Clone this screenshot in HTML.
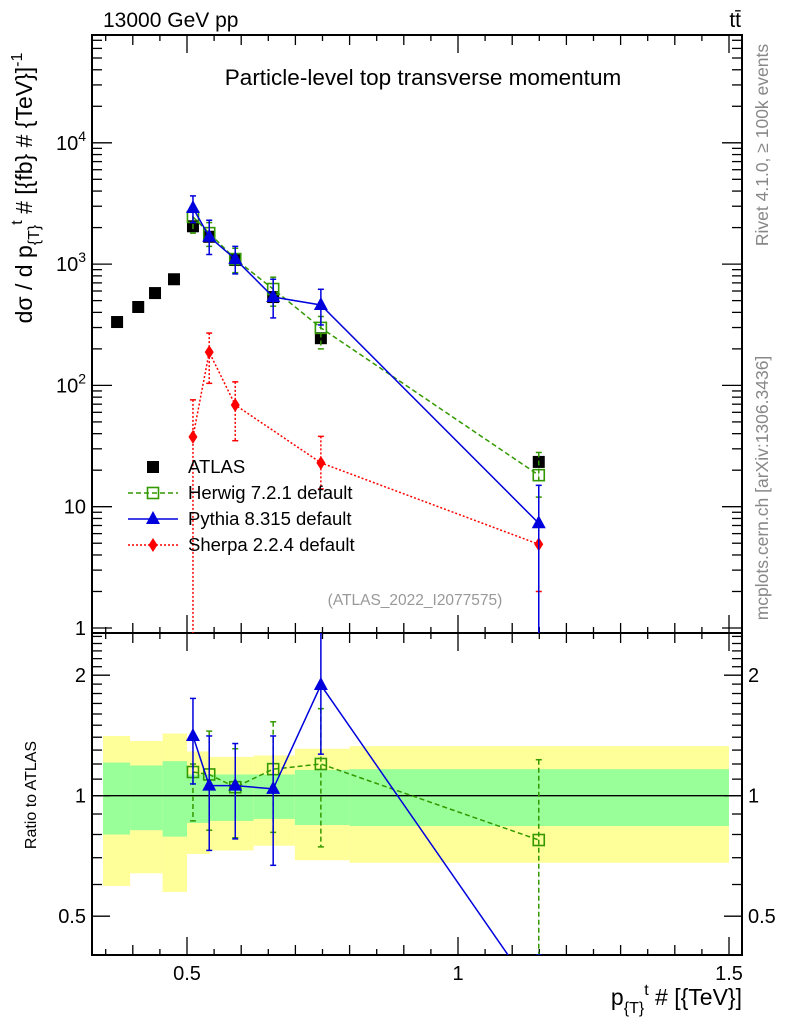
<!DOCTYPE html>
<html><head><meta charset="utf-8"><style>
html,body{margin:0;padding:0;background:#fff;}
svg{display:block;font-family:"Liberation Sans",sans-serif;}
</style></head><body>
<svg id="chart" width="786" height="1024" viewBox="0 0 786 1024">
<g id="bands"></g>
<g id="axes"></g>
<g id="marks"></g>
<text x="103" y="27" font-size="21">13000 GeV pp</text>
<text x="741" y="27" font-size="21" text-anchor="end">tt̄</text>
<text x="423" y="85" font-size="22.5" text-anchor="middle">Particle-level top transverse momentum</text>
<text x="415" y="605" font-size="15.5" fill="#999" text-anchor="middle">(ATLAS_2022_I2077575)</text>
<text transform="translate(768,145) rotate(-90)" font-size="17.5" fill="#888" text-anchor="middle">Rivet 4.1.0, ≥ 100k events</text>
<text transform="translate(768,488) rotate(-90)" font-size="17.5" fill="#888" text-anchor="middle">mcplots.cern.ch [arXiv:1306.3436]</text>
<text transform="translate(32,188) rotate(-90)" font-size="23" text-anchor="middle">dσ / d p<tspan font-size="16" dy="7">{T}</tspan><tspan font-size="16" dy="-17">t</tspan><tspan dy="10"> # [{fb} # {TeV}]</tspan><tspan font-size="16" dy="-10">-1</tspan></text>
<text transform="translate(36,795) rotate(-90)" font-size="16" text-anchor="middle">Ratio to ATLAS</text>
<text x="742" y="1005" font-size="23" text-anchor="end">p<tspan font-size="16" dy="8">{T}</tspan><tspan font-size="16" dy="-18">t</tspan><tspan dy="10"> # [{TeV}]</tspan></text>
<g id="legend"></g>
</svg>
<script>
// ---- data ----
const atlasX = [0.371,0.41,0.441,0.476,0.511,0.541,0.589,0.659,0.747,1.149];
const atlasY = [333,443,577,750,2050,1680,1080,535,245,23.4];
const mcX = [0.511,0.541,0.589,0.659,0.747,1.149];
const herwigY = [2450,1800,1100,623,298,18.2];
const herwigUp = [2900,2200,1350,780,370,28];
const herwigDn = [1800,1400,850,450,200,12];
const pythiaY = [2900,1680,1100,535,460,7.3];
const pythiaUp = [3650,2300,1400,750,620,15];
const pythiaDn = [2200,1200,830,360,315,0.5];
const sherpaY = [37.6,188,69,0,23,4.9];
const sherpaUp = [76,270,107,0,38,7.5];
const sherpaDn = [0.5,104,35,0,14,2];
const herwigR = [1.146,1.13,1.05,1.165,1.20,0.775];
const herwigRUp = [1.2,1.45,1.31,1.53,1.65,1.23];
const herwigRDn = [0.865,0.82,0.785,0.81,0.745,0.3];
const pythiaR = [1.41,1.06,1.06,1.04,1.89,0.31];
const pythiaRUp = [1.75,1.41,1.35,1.41,3.0,0.4];
const pythiaRDn = [1.07,0.73,0.78,0.67,1.27,0.2];
const bandEdges = [0.345,0.395,0.455,0.5,0.542,0.623,0.699,0.8,1.5];
const yellowUp = [1.41,1.37,1.43,1.29,1.25,1.26,1.31,1.33];
const yellowDn = [0.595,0.64,0.575,0.715,0.73,0.75,0.69,0.68];
const greenUp = [1.21,1.19,1.22,1.13,1.13,1.13,1.16,1.165];
const greenDn = [0.80,0.82,0.79,0.855,0.865,0.875,0.845,0.84];
const mainTicks = ["1","10","10^2","10^3","10^4"];
const xTicks = ["0.5","1","1.5"];
const ratioTicks = ["0.5","1","2"];

// ---- scales ----
const L=92,R=742,T=35,MB=633,RB=955;
const X=v=>458+(v-1)*542;
const Y=v=>628-Math.log10(v)*121.3;
const RY=v=>795.7-Math.log2(v)*120.5;
const NS="http://www.w3.org/2000/svg";
function mk(parent,tag,attrs){const e=document.createElementNS(NS,tag);for(const k in attrs)e.setAttribute(k,attrs[k]);parent.appendChild(e);return e;}
const bands=document.getElementById('bands'),axes=document.getElementById('axes'),marks=document.getElementById('marks'),legend=document.getElementById('legend');

for(let i=0;i<yellowUp.length;i++){
  const x0=X(bandEdges[i]),x1=X(bandEdges[i+1]);
  const y=mk(bands,'rect',{x:x0,y:RY(yellowUp[i]),width:x1-x0,height:RY(yellowDn[i])-RY(yellowUp[i]),fill:'#ffff99'});
  
  
  const g=mk(bands,'rect',{x:x0,y:RY(greenUp[i]),width:x1-x0,height:RY(greenDn[i])-RY(greenUp[i]),fill:'#99ff99'});
  
  
}
mk(axes,'line',{x1:L,x2:R,y1:RY(1),y2:RY(1),stroke:'#000','stroke-width':1.3});

mk(axes,'rect',{x:L,y:T,width:R-L,height:MB-T,fill:'none',stroke:'#000','stroke-width':2});
mk(axes,'rect',{x:L,y:MB,width:R-L,height:RB-MB,fill:'none',stroke:'#000','stroke-width':2});
for(let d=0;d<5;d++){
  for(let m=1;m<10;m++){
    const v=m*Math.pow(10,d);const y=Y(v);if(y<T||y>MB)continue;
    const len=m==1?20:10;
    mk(axes,'line',{x1:L,x2:L+len,y1:y,y2:y,stroke:'#000','stroke-width':1.3});
    mk(axes,'line',{x1:R,x2:R-len,y1:y,y2:y,stroke:'#000','stroke-width':1.3});
  }
}
mainTicks.forEach((t,d)=>{
  const y=Y(Math.pow(10,d));
  const tx=mk(axes,'text',{x:L-6,y:y+7,'font-size':20,'text-anchor':'end'});
  
  
  if(t.indexOf('^')>0){const p=t.split('^');tx.textContent=p[0];const s=mk(tx,'tspan',{'font-size':14,dy:-9});s.textContent=p[1];}
  else tx.textContent=t;
});
for(let k=7;k<=30;k++){
  const v=k*0.05;const x=X(v);if(x<L||x>R)continue;
  const len=(k%10==0)?18:(k%2==0?10:6);
  [[MB,MB-len],[T,T+len],[RB,RB-len],[MB,MB+len]].forEach(p=>mk(axes,'line',{x1:x,x2:x,y1:p[0],y2:p[1],stroke:'#000','stroke-width':1.3}));
}
xTicks.forEach(t=>{const tx=mk(axes,'text',{x:X(parseFloat(t)),y:980,'font-size':20,'text-anchor':'middle'});tx.textContent=t;
  
  });
const rv=[];for(let v=0.4;v<=1.0001;v+=0.1)rv.push(v);for(let v=1.1;v<=2.55;v+=0.1)rv.push(v);
rv.forEach(v=>{const y=RY(v);if(y<MB||y>RB)return;const major=[0.5,1,2].some(m=>Math.abs(m-v)<1e-6);const len=major?18:10;
  mk(axes,'line',{x1:L,x2:L+len,y1:y,y2:y,stroke:'#000','stroke-width':1.3});
  mk(axes,'line',{x1:R,x2:R-len,y1:y,y2:y,stroke:'#000','stroke-width':1.3});});
ratioTicks.forEach(t=>{const y=RY(parseFloat(t))+7;
  const a=mk(axes,'text',{x:L-6,y:y,'font-size':20,'text-anchor':'end'});a.textContent=t;
  
  
  const b=mk(axes,'text',{x:R+6,y:y,'font-size':20});b.textContent=t;
  
  });

const defs=mk(marks,'defs',{});
const c1=mk(defs,'clipPath',{id:'cm'});mk(c1,'rect',{x:L,y:T,width:R-L,height:MB-T});
const c2=mk(defs,'clipPath',{id:'cr'});mk(c2,'rect',{x:L,y:MB,width:R-L,height:RB-MB});
const gm=mk(marks,'g',{'clip-path':'url(#cm)'});
const gr=mk(marks,'g',{'clip-path':'url(#cr)'});

function marker(g,type,x,y,col){
  let e;
  if(type=='sq')e=mk(g,'rect',{x:x-6,y:y-6,width:12,height:12,fill:'#000'});
  else if(type=='osq')e=mk(g,'rect',{x:x-5.5,y:y-5.5,width:11,height:11,fill:'#fff','fill-opacity':0,stroke:col,'stroke-width':1.6});
  else if(type=='tri')e=mk(g,'polygon',{points:`${x},${y-8} ${x-7},${y+5} ${x+7},${y+5}`,fill:col});
  else e=mk(g,'polygon',{points:`${x},${y-7} ${x-4.5},${y} ${x},${y+7} ${x+4.5},${y}`,fill:col});
  return e;
}
function series(g,name,xs,ys,ups,dns,sy,col,dash,type,skipZero){
  const pts=[];
  xs.forEach((xv,i)=>{if(skipZero&&ys[i]<=0)return;pts.push([X(xv),sy(ys[i]),i]);});
  const l=mk(g,'polyline',{points:pts.map(p=>p[0]+','+p[1]).join(' '),fill:'none',stroke:col,'stroke-width':1.5,'stroke-dasharray':dash});
  
  
  pts.forEach(p=>{const i=p[2];const x=p[0];
    const e=mk(g,'line',{x1:x,x2:x,y1:sy(ups[i]),y2:sy(dns[i]),stroke:col,'stroke-width':1.5,'stroke-dasharray':dash});
    
    
    [ups[i],dns[i]].forEach(v=>mk(g,'line',{x1:x-3,x2:x+3,y1:sy(v),y2:sy(v),stroke:col,'stroke-width':1.5}));
    const m=marker(g,type,x,p[1],col);
    
    
  });
}
atlasX.forEach((xv,i)=>{const m=marker(gm,'sq',X(xv),Y(atlasY[i]),'#000');
  
  });
series(gm,'sherpa',mcX,sherpaY,sherpaUp,sherpaDn,Y,'#ff0000','2,2','dia',true);
series(gm,'herwig',mcX,herwigY,herwigUp,herwigDn,Y,'#339900','5,3','osq',false);
series(gm,'pythia',mcX,pythiaY,pythiaUp,pythiaDn,Y,'#0000dd','','tri',false);
series(gr,'herwig-ratio',mcX,herwigR,herwigRUp,herwigRDn,RY,'#339900','5,3','osq',false);
series(gr,'pythia-ratio',mcX,pythiaR,pythiaRUp,pythiaRDn,RY,'#0000dd','','tri',false);

const leg=[['ATLAS','sq','#000',''],['Herwig 7.2.1 default','osq','#339900','5,3'],['Pythia 8.315 default','tri','#0000dd',''],['Sherpa 2.2.4 default','dia','#ff0000','2,2']];
leg.forEach((l,i)=>{const y=467+i*26;
  if(i>0)mk(legend,'line',{x1:128,x2:178,y1:y,y2:y,stroke:l[2],'stroke-width':1.5,'stroke-dasharray':l[3]});
  marker(legend,l[1],153,y,l[2]);
  const t=mk(legend,'text',{x:188,y:y+6,'font-size':18.5});t.textContent=l[0];
  
  
});
</script>
</body></html>
